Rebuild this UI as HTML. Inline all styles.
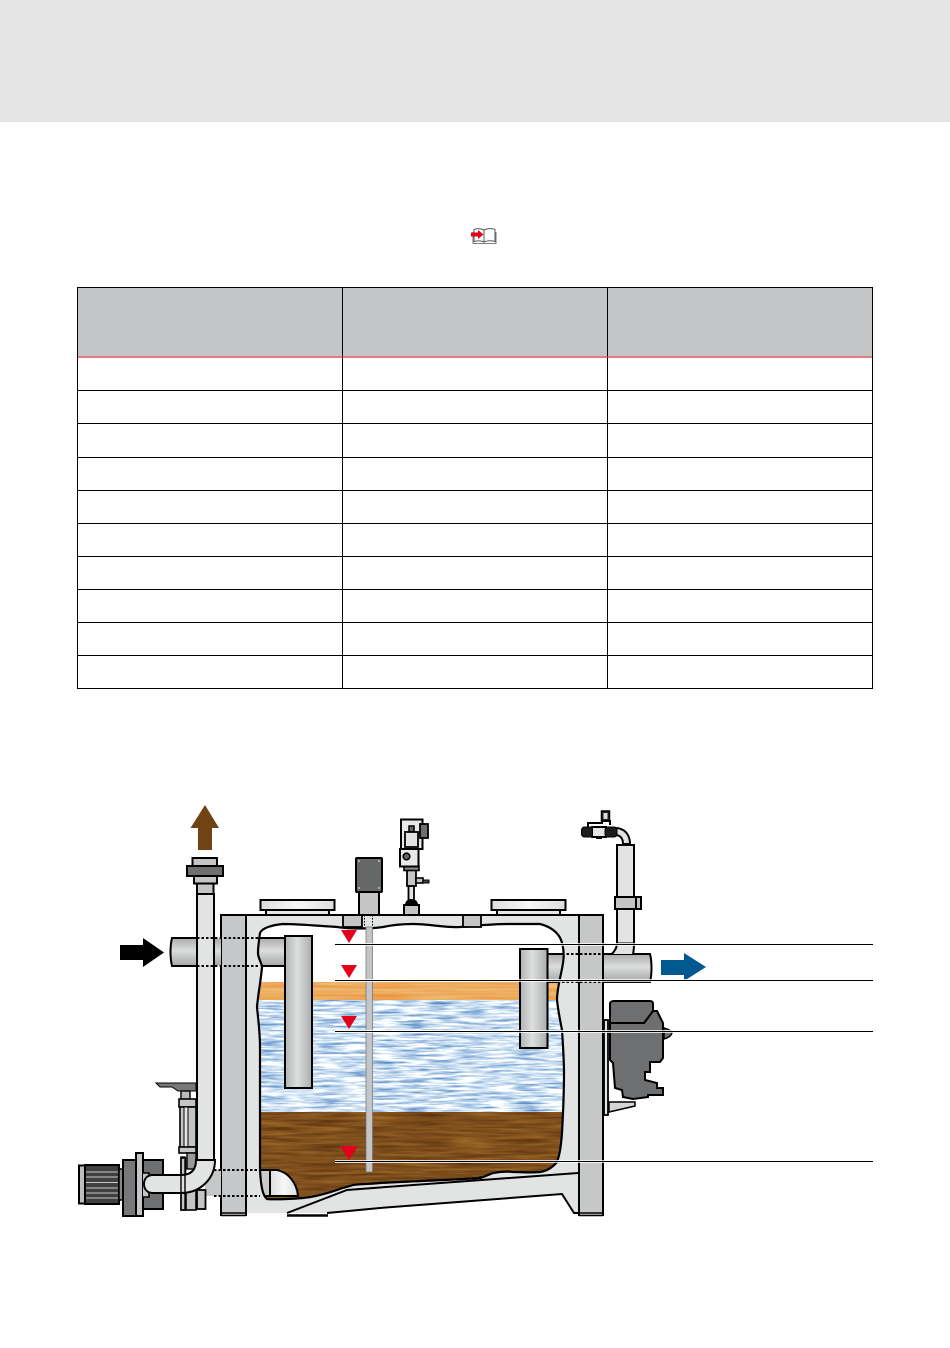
<!DOCTYPE html>
<html><head><meta charset="utf-8"><style>
html,body{margin:0;padding:0;background:#fff;width:950px;height:1348px;overflow:hidden}
svg{display:block}
</style></head><body>
<svg width="950" height="1348" viewBox="0 0 950 1348" xmlns="http://www.w3.org/2000/svg">
<defs>
<filter id="water" x="0" y="0" width="100%" height="100%" color-interpolation-filters="sRGB">
<feTurbulence type="fractalNoise" baseFrequency="0.035 0.42" numOctaves="3" seed="4"/>
<feColorMatrix values="1.3 0 0 0 0.15  0.95 0 0 0 0.4  0.5 0 0 0 0.7  0 0 0 0 1"/>
</filter>
<filter id="wood" x="0" y="0" width="100%" height="100%" color-interpolation-filters="sRGB">
<feTurbulence type="fractalNoise" baseFrequency="0.02 0.35" numOctaves="3" seed="9"/>
<feColorMatrix values="0.35 0 0 0 0.32  0.28 0 0 0 0.17  0.12 0 0 0 0.05  0 0 0 0 1"/>
</filter>
<filter id="oil" x="0" y="0" width="100%" height="100%" color-interpolation-filters="sRGB">
<feTurbulence type="fractalNoise" baseFrequency="0.012 0.35" numOctaves="2" seed="3"/>
<feColorMatrix values="0 0 0 0 0.93  0.25 0 0 0 0.55  0.35 0 0 0 0.2  0 0 0 0 1"/>
</filter>
<linearGradient id="gv" x1="0" y1="0" x2="0" y2="1"><stop offset="0" stop-color="#a9abad"/><stop offset=".45" stop-color="#dcdddd"/><stop offset="1" stop-color="#a5a7a9"/></linearGradient>
<linearGradient id="gh" x1="0" y1="0" x2="1" y2="0"><stop offset="0" stop-color="#b0b2b4"/><stop offset=".45" stop-color="#dedfdf"/><stop offset="1" stop-color="#a9abad"/></linearGradient>
<linearGradient id="gm" x1="0" y1="0" x2="1" y2="0"><stop offset="0" stop-color="#dcdddd"/><stop offset=".5" stop-color="#f7f7f7"/><stop offset="1" stop-color="#dcdddd"/></linearGradient>
<clipPath id="tank"><path d="M260 933C262 928 272 925 283 924C300 924 320 926 337 927C350 929 370 929 383 927C392 925 402 924 413 924C430 924 445 928 460 927C475 926 490 924 507 924L540 924C552 927 560 934 562 943C564 950 564 957 563 963C561 976 557 988 557 1000C558 1010 560 1020 562 1030C563 1045 564 1060 564 1073C564 1095 563 1115 562 1133C561 1145 560 1154 557 1162C552 1168 547 1171 540 1172C530 1173 522 1172 513 1172C505 1171 498 1172 493 1173C488 1175 484 1177 480 1178C450 1180 415 1181 380 1183C370 1184 361 1184 353 1185C347 1187 342 1188 337 1190C325 1194 314 1197 303 1198C290 1199 277 1200 267 1199C263 1196 261 1188 260 1170C260 1150 260 1135 260 1113C260 1090 260 1070 260 1047C260 1032 258 1018 257 1007C258 994 261 980 262 967C261 961 258 958 258 953C258 946 259 940 260 933Z"/></clipPath>
</defs>

<!-- header band -->
<rect x="0" y="0" width="950" height="122" fill="#e3e4e3"/>

<!-- book icon -->
<g fill="none" stroke="#58595b" stroke-width="1">
<path d="M474 229.500C478 228 481 228.500 484 230V242C481 240.500 478 240.500 474 241.500Z" fill="#fff"/>
<path d="M484 230C487 228.500 491 228 495 229.500V241.500C491 240.500 487 240.500 484 242Z" fill="#fff"/>
<path d="M473 232V243.500H496V232" stroke-width=".8"/>
</g>
<path d="M471 232.500H478V230L483.500 234.500L478 239V236.500H471Z" fill="#e2001a"/>

<!-- table -->
<rect x="77.500" y="287.500" width="795" height="401" fill="#fff" stroke="#000" stroke-width="1"/>
<rect x="78" y="288" width="794" height="69" fill="#c4c5c7"/>
<g stroke="#000" stroke-width="1" fill="none">
<path d="M77 390.500H873M77 423.500H873M77 457.500H873M77 490.500H873M77 523.500H873M77 556.500H873M77 589.500H873M77 622.500H873M77 655.500H873"/>
<path d="M342.500 287V689M607.500 287V689"/>
</g>
<rect x="78" y="356.500" width="794" height="1.200" fill="#e2404f"/>

<!-- top fittings (behind frame) -->
<rect x="266" y="909" width="63" height="7" fill="#e6e7e7" stroke="#000" stroke-width="2"/>
<rect x="260.500" y="900" width="74" height="10" fill="url(#gm)" stroke="#000" stroke-width="2"/>
<rect x="497" y="909" width="63" height="7" fill="#e6e7e7" stroke="#000" stroke-width="2"/>
<rect x="491.500" y="900" width="74" height="10" fill="url(#gm)" stroke="#000" stroke-width="2"/>

<!-- level probe head -->
<rect x="359" y="891" width="20" height="25" fill="#c4c5c6" stroke="#000" stroke-width="2"/>
<rect x="356" y="858" width="26" height="34" rx="1" fill="#666768" stroke="#000" stroke-width="2"/>
<g fill="#ddd"><circle cx="359" cy="861" r=".9"/><circle cx="379" cy="861" r=".9"/><circle cx="359" cy="888" r=".9"/><circle cx="379" cy="888" r=".9"/></g>

<!-- tank body -->
<path d="M246 915H579V1214H574L562 1194L380 1208L327 1213H246Z" fill="#e2e3e3"/>
<path d="M221 915V1216H246V915Z" fill="#c6c7c8"/>
<path d="M579 915V1216H603V915Z" fill="#c6c7c8"/>

<!-- interior -->
<g clip-path="url(#tank)">
<rect x="250" y="920" width="320" height="62" fill="#fff"/>
<rect x="250" y="1000" width="320" height="113" fill="#c8dcee" filter="url(#water)"/>
<rect x="250" y="982" width="320" height="18" fill="#eca952" filter="url(#oil)"/>
<rect x="250" y="1112" width="320" height="95" fill="#84521c" filter="url(#wood)"/>
<!-- inlet inside -->
<rect x="250" y="938" width="37" height="28" fill="url(#gv)" stroke="#000" stroke-width="2"/>
<!-- outlet inside -->
<rect x="540" y="954" width="30" height="28" fill="url(#gv)" stroke="#000" stroke-width="2"/>
<!-- suction -->
<path d="M250 1170H270V1196H250Z" fill="#c9cacb" stroke="#000" stroke-width="2"/>
<path d="M270 1170H277C288 1172 297 1183 298 1196H270Z" fill="url(#gm)" stroke="#000" stroke-width="2"/>
</g>
<!-- inner outline -->
<path d="M260 933C262 928 272 925 283 924C300 924 320 926 337 927C350 929 370 929 383 927C392 925 402 924 413 924C430 924 445 928 460 927C475 926 490 924 507 924L540 924C552 927 560 934 562 943C564 950 564 957 563 963C561 976 557 988 557 1000C558 1010 560 1020 562 1030C563 1045 564 1060 564 1073C564 1095 563 1115 562 1133C561 1145 560 1154 557 1162C552 1168 547 1171 540 1172C530 1173 522 1172 513 1172C505 1171 498 1172 493 1173C488 1175 484 1177 480 1178C450 1180 415 1181 380 1183C370 1184 361 1184 353 1185C347 1187 342 1188 337 1190C325 1194 314 1197 303 1198C290 1199 277 1200 267 1199C263 1196 261 1188 260 1170C260 1150 260 1135 260 1113C260 1090 260 1070 260 1047C260 1032 258 1018 257 1007C258 994 261 980 262 967C261 961 258 958 258 953C258 946 259 940 260 933Z" fill="none" stroke="#000" stroke-width="2.200"/>

<!-- standpipes -->
<rect x="285" y="936" width="27" height="152" fill="url(#gh)" stroke="#000" stroke-width="2"/>
<rect x="520" y="949" width="27.500" height="99" fill="url(#gh)" stroke="#000" stroke-width="2"/>

<!-- level probe rod -->
<rect x="366" y="927" width="6.500" height="245" fill="#c4c5c6" stroke="#6f7071" stroke-width=".7"/>
<rect x="343" y="915" width="19" height="12" fill="#c4c5c6" stroke="#000" stroke-width="1.800"/>
<rect x="463" y="915" width="18" height="12" fill="#c4c5c6" stroke="#000" stroke-width="1.800"/>
<path d="M364.500 915V927M372.500 915V927" stroke="#000" stroke-width="1" stroke-dasharray="1.500 1.500"/>

<!-- frame lines -->
<g fill="none" stroke="#000" stroke-width="2">
<path d="M221 1216V915H603V1216"/>
<path d="M246 915V1216M579 915V1216"/>
<path d="M221 1215.500H246M579 1215.500H603M221 1213H246M579 1213H603" stroke-width="1.500"/>
<path d="M287 1213L347 1190L380 1187.500L578 1173"/>
<path d="M327 1213L380 1208L562 1194L574 1213H579"/>
<path d="M287 1215.500H328" stroke-width="2.500"/>
<path d="M480 1179V1176" stroke-width="1.400"/>
</g>

<!-- inlet pipe -->
<path d="M172 938H197V966H172C170 958 170 946 172 938Z" fill="url(#gv)" stroke="#000" stroke-width="2"/>
<rect x="214" y="939" width="7" height="26" fill="url(#gv)"/>
<path d="M120 945H143V938L164 952.500L143 967V960H120Z" fill="#000"/>

<!-- sludge outlet pipe outside -->
<rect x="205" y="1170" width="16" height="26" fill="#c6c7c8"/>

<!-- vertical sludge pipe -->
<rect x="197" y="893" width="17" height="275" fill="#e2e3e3"/>
<path d="M197 893V1160M214 893V1160" stroke="#000" stroke-width="2"/>
<rect x="197" y="883" width="16.500" height="11" fill="#c4c5c6" stroke="#000" stroke-width="2"/>
<rect x="194" y="876" width="23" height="7.500" fill="#c4c5c6" stroke="#000" stroke-width="2"/>
<rect x="192.500" y="858" width="24.500" height="8.500" fill="#c4c5c6" stroke="#000" stroke-width="2"/>
<rect x="187" y="866" width="36" height="10" fill="#6e6f70" stroke="#000" stroke-width="2"/>
<path d="M205 805L219 828H212V850H198V828H190.500Z" fill="#704214"/>

<!-- dotted pipe lines -->
<path d="M197 938H260M197 966H260" stroke="#000" stroke-width="2" stroke-dasharray="2.500 2"/>
<path d="M214 1170H260M214 1196H260" stroke="#000" stroke-width="2" stroke-dasharray="2.500 2"/>

<!-- handle + filter -->
<path d="M156 1083H196V1091H178L172 1087H160Z" fill="#77787a" stroke="#000" stroke-width="1"/>
<rect x="181" y="1091" width="9" height="9" fill="#bbb" stroke="#000" stroke-width="1.400"/>
<rect x="179" y="1099" width="17" height="8" fill="#c4c5c6" stroke="#000" stroke-width="1.600"/>
<rect x="180" y="1107" width="16" height="40" fill="#c4c5c6" stroke="#000" stroke-width="1.600"/>
<rect x="184" y="1107" width="4" height="40" fill="#e2e3e3" stroke="#000" stroke-width="1"/>
<rect x="179" y="1147" width="17" height="6" fill="#c4c5c6" stroke="#000" stroke-width="1.600"/>
<rect x="187" y="1153" width="9" height="16" fill="#999" stroke="#000" stroke-width="1.400"/>
<rect x="181" y="1158" width="4.500" height="52" fill="#c4c5c6" stroke="#000" stroke-width="1.600"/>
<rect x="186" y="1190" width="10" height="20" fill="#c4c5c6" stroke="#000" stroke-width="1.600"/>
<rect x="197" y="1190" width="8.500" height="19" fill="#c4c5c6" stroke="#000" stroke-width="1.800"/>

<!-- pump -->
<rect x="79" y="1165.500" width="7" height="38" fill="#bcbdbe" stroke="#000" stroke-width="2"/>
<rect x="85" y="1165" width="34" height="39" fill="#3f4041" stroke="#000" stroke-width="2"/>
<g stroke="#c8c8c8" stroke-width="1"><path d="M86 1172H118M86 1177H118M86 1182.500H118M86 1188H118M86 1193H118M86 1198H118"/></g>
<rect x="119" y="1169" width="4" height="31" fill="#888" stroke="#000" stroke-width="1.500"/>
<rect x="123" y="1160" width="20" height="56" fill="#77787a" stroke="#000" stroke-width="2"/>
<rect x="143" y="1160" width="20" height="49" fill="#6e6f70" stroke="#000" stroke-width="2"/>
<rect x="136" y="1153" width="7" height="63" fill="#c4c5c6" stroke="#000" stroke-width="2"/>
<path d="M143 1173H149V1197H143" fill="#c4c5c6" stroke="#000" stroke-width="1.600"/>
<path d="M215 1160C215 1178 201 1193 181 1193H153C147 1193 144 1189 144 1184C144 1179 147 1175 153 1175H181C191 1175 196 1170 196 1160Z" fill="#e2e3e3" stroke="#000" stroke-width="2"/>
<path d="M196 1160H215" stroke="#000" stroke-width="1.500"/>
<path d="M181 1175V1193" stroke="#000" stroke-width="1"/>
<rect x="181" y="1157" width="4" height="53" fill="none" stroke="#000" stroke-width="1.400"/>

<!-- outlet pipe -->
<path d="M603 954H650C652 962 652 974 650 982H603Z" fill="url(#gv)" stroke="#000" stroke-width="2"/>
<path d="M562 954H603M562 982H603" stroke="#000" stroke-width="2" stroke-dasharray="2.500 2"/>
<path d="M661 960H684V953L706 967L684 981V975H661Z" fill="#005a91"/>

<!-- vertical vent right -->
<path d="M612 954C615 950 617 948 617 943V845H634V943C634 948 634 950 633 954Z" fill="#e2e3e3"/>
<path d="M612 954C615 950 617 948 617 943V845H634V943C634 948 634 950 633 954" fill="none" stroke="#000" stroke-width="2"/>
<path d="M617 943H634" stroke="#000" stroke-width="1"/>
<rect x="615" y="897" width="21" height="12" fill="#c4c5c6" stroke="#000" stroke-width="2"/>
<rect x="636" y="897" width="5" height="12" fill="#c4c5c6" stroke="#000" stroke-width="2"/>
<path d="M615 828C625 828 630 835 630 844H623C623 838 620 835 615 835Z" fill="#e2e3e3" stroke="#000" stroke-width="2"/>
<rect x="592" y="827" width="14" height="10" fill="#e2e3e3" stroke="#000" stroke-width="2"/>
<rect x="581.500" y="827" width="11" height="10" rx="3" fill="#1c1c1c" stroke="#000"/>
<rect x="605" y="827" width="12" height="10" rx="3" fill="#1c1c1c" stroke="#000"/>
<path d="M588 827V823H602V821H610V825" fill="none" stroke="#000" stroke-width="2"/>
<rect x="601.500" y="811" width="8" height="10" fill="#222" stroke="#000" stroke-width="1.500"/>
<rect x="603.500" y="813" width="4" height="6" fill="#ddd"/>
<rect x="596" y="837" width="6" height="2" fill="#000"/>

<!-- sensor top -->
<rect x="404" y="905" width="15" height="10" fill="#c4c5c6" stroke="#000" stroke-width="2"/>
<path d="M405 905C405 901 408 899 411.500 899C415 899 418 901 418 905Z" fill="#000"/>
<rect x="408.500" y="886" width="5.500" height="14" fill="#e2e3e3" stroke="#000" stroke-width="1.800"/>
<rect x="407" y="870" width="9" height="16" fill="#c4c5c6" stroke="#000" stroke-width="1.800"/>
<rect x="416" y="878" width="7" height="5" fill="#c4c5c6" stroke="#000" stroke-width="1.600"/>
<rect x="423" y="880" width="6" height="3" fill="#444" stroke="#000" stroke-width="1"/>
<rect x="404" y="866" width="15" height="4.500" fill="#888" stroke="#000" stroke-width="1.600"/>
<rect x="400" y="849" width="18.500" height="17.500" fill="#e8e8e8" stroke="#000" stroke-width="2"/>
<circle cx="406.500" cy="856.500" r="3.300" fill="#666" stroke="#000" stroke-width="1.600"/>
<rect x="401" y="819.500" width="21.500" height="29.500" fill="#e8e8e8" stroke="#000" stroke-width="2"/>
<rect x="420" y="824" width="8" height="14" fill="#6e6f70" stroke="#000" stroke-width="1.800"/>
<rect x="409" y="826" width="5" height="6" fill="#666" stroke="#000" stroke-width="1.500"/>
<rect x="405" y="832" width="13" height="15" fill="#e2e3e3" stroke="#000" stroke-width="1.800"/>

<!-- separator side device -->
<rect x="604" y="1020" width="4" height="95" fill="#e2e3e3" stroke="#000" stroke-width="1.800"/>
<path d="M609 1102H635V1106L609 1112Z" fill="#d4d5d5" stroke="#000" stroke-width="1.500"/>
<path d="M610 1023V1060L613 1063L615 1088L622 1090L623 1097L633 1099L648 1097V1095H663V1088H657V1083L645 1080V1072H650V1062H660L663 1058V1023L657 1011H653L644 1023Z" fill="#6e6f70" stroke="#000" stroke-width="2"/>
<path d="M610 1023V1004C610 1002 612 1001 614 1001H650C652 1001 653 1002 653 1004V1011L644 1023Z" fill="#6e6f70" stroke="#000" stroke-width="2"/>
<path d="M664 1028C668 1029 671 1031 672 1033C671 1036 668 1038 664 1039Z" fill="#6e6f70" stroke="#000" stroke-width="1.500"/>

<!-- level lines -->
<path d="M335 944.500H873M335 980.500H873M335 1031.500H873M335 1161.500H873" stroke="#fff" stroke-width="3" fill="none" opacity=".8"/>
<path d="M335 944.500H873M335 980.500H873M335 1031.500H873M335 1161.500H873" stroke="#000" stroke-width="1" fill="none"/>

<!-- triangles -->
<g fill="#e2001a">
<path d="M341 930H357L349 943Z"/>
<path d="M341 965H357L349 978Z"/>
<path d="M341 1016H357L349 1029Z"/>
<path d="M340 1146H358L349 1160Z"/>
</g>
</svg>
</body></html>
